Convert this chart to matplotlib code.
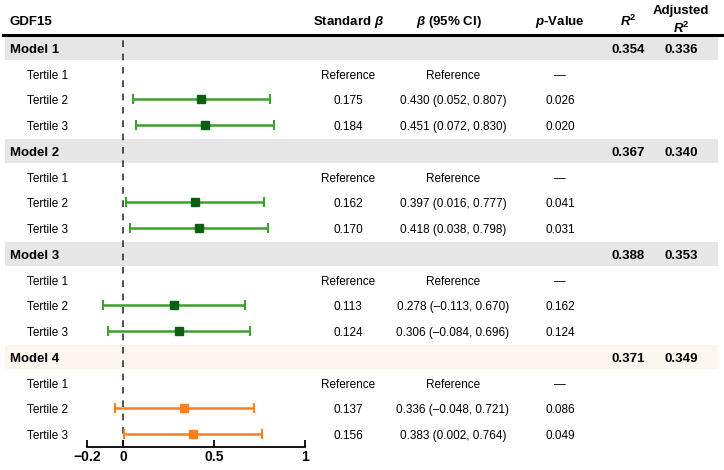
import matplotlib.pyplot as plt
from matplotlib.lines import Line2D

plt.rcParams['font.family'] = ['Liberation Sans', 'DejaVu Sans']
plt.rcParams['mathtext.fontset'] = 'custom'
plt.rcParams['mathtext.rm'] = 'Liberation Sans'
plt.rcParams['mathtext.it'] = 'Liberation Sans:italic'
plt.rcParams['mathtext.bf'] = 'Liberation Sans:bold'
plt.rcParams['mathtext.bfit'] = 'Liberation Sans:bold:italic'

models = ['Model 1', 'Model 2', 'Model 3', 'Model 4']
tertiles = ['Tertile 1', 'Tertile 2', 'Tertile 3']
r2 = ['0.354', '0.367', '0.388', '0.371']
adj_r2 = ['0.336', '0.340', '0.353', '0.349']

# tertile 2 and tertile 3 of each model
std_beta = [[0.175, 0.184], [0.162, 0.170], [0.113, 0.124], [0.137, 0.156]]
beta = [[0.430, 0.451], [0.397, 0.418], [0.278, 0.306], [0.336, 0.383]]
ci_low = [[0.052, 0.072], [0.016, 0.038], [-0.113, -0.084], [-0.048, 0.002]]
ci_high = [[0.807, 0.830], [0.777, 0.798], [0.670, 0.696], [0.721, 0.764]]
p_values = ['0.026', '0.020', '0.041', '0.031', '0.162', '0.124', '0.086', '0.049']

line_colors = ['#3aa12a', '#3aa12a', '#3aa12a', '#ff7f1a']
marker_colors = ['#0b5e12', '#0b5e12', '#0b5e12', '#ff7f1a']
band_colors = ['#e6e6e6', '#e6e6e6', '#e6e6e6', '#fdf6ee']

W, H = 724, 470
row_h = 25.75
top_px, bot_px = 35, 447
dy = 0.08  # text sits a bit low in its row


def fmt(v):
    return f'{v:.3f}'.replace('-', '\u2013')


fig = plt.figure(figsize=(W / 100, H / 100), dpi=100)

# background axes: pixel x, row y
bg = fig.add_axes([0, 0, 1, 1])
bg.set_xlim(0, W)
y_top = -0.5 - top_px / row_h
y_bot = 15.5 + (H - bot_px) / row_h
bg.set_ylim(y_bot, y_top)
bg.axis('off')

ax = fig.add_axes([87 / W, (H - bot_px) / H, 218 / W, (bot_px - top_px) / H])
ax.set_xlim(-0.2, 1)
ax.set_ylim(15.5, -0.5)
ax.patch.set_alpha(0)

col_std, col_beta, col_p, col_r2, col_adj = 348, 453, 560, 628, 681

# header
hy = -1.02
hkw = dict(fontsize=9.5, fontweight='bold', va='center', ha='center')
bg.text(10, hy, 'GDF15', fontsize=9.5, fontweight='bold', va='center')
bg.text(col_std, hy, r'Standard $\mathbfit{\beta}$', **hkw)
bg.text(col_beta - 4, hy, r'$\mathbfit{\beta}$ (95% CI)', **hkw)
bg.text(col_p, hy, r'$\mathbfit{p}$-Value', **hkw)
bg.text(col_r2, hy, '$\\mathbfit{R}^{\\mathbf{2}}$', **hkw)
bg.text(col_adj, hy - 0.4, 'Adjusted', **hkw)
bg.text(col_adj, hy + 0.28, '$\\mathbfit{R}^{\\mathbf{2}}$', **hkw)
bg.add_line(Line2D([3, 722], [-0.5, -0.5], color='black', lw=2.2))

for m, name in enumerate(models):
    y0 = m * 4
    bg.axhspan(y0 - 0.47, y0 + 0.47, xmin=5 / W, xmax=718 / W, color=band_colors[m], lw=0)
    bg.text(10, y0 + dy, name, fontsize=9.5, fontweight='bold', va='center')
    bg.text(col_r2, y0 + dy, r2[m], fontsize=9.5, fontweight='bold', va='center', ha='center')
    bg.text(col_adj, y0 + dy, adj_r2[m], fontsize=9.5, fontweight='bold', va='center', ha='center')
    for t, tname in enumerate(tertiles):
        y = y0 + 1 + t
        ty = y + dy
        bg.text(27, ty, tname, fontsize=8.5, va='center')
        if t == 0:
            bg.text(col_std, ty, 'Reference', fontsize=8.5, va='center', ha='center')
            bg.text(col_beta, ty, 'Reference', fontsize=8.5, va='center', ha='center')
            bg.text(col_p, ty, '\u2014', fontsize=8.5, va='center', ha='center')
            continue
        k = t - 1
        bg.text(col_std, ty, fmt(std_beta[m][k]), fontsize=8.5, va='center', ha='center')
        bg.text(col_beta, ty, f'{fmt(beta[m][k])} ({fmt(ci_low[m][k])}, {fmt(ci_high[m][k])})',
                fontsize=8.5, va='center', ha='center')
        bg.text(col_p, ty, p_values[m * 2 + k], fontsize=8.5, va='center', ha='center')
        ax.errorbar(beta[m][k], y,
                    xerr=[[beta[m][k] - ci_low[m][k]], [ci_high[m][k] - beta[m][k]]],
                    fmt='s', color=line_colors[m], mfc=marker_colors[m], mec=marker_colors[m],
                    ms=5.5, elinewidth=1.8, capsize=3.5, capthick=1.5, zorder=3)

ax.axvline(0, color='#333333', lw=1.2, ls=(0, (4, 4)), zorder=1)

for s in ['top', 'right', 'left']:
    ax.spines[s].set_visible(False)
ax.spines['bottom'].set_linewidth(1.3)
ax.spines['bottom'].set_bounds(-0.2, 1)
ax.set_yticks([])
ax.set_xticks([-0.2, 0, 0.5, 1])
ax.set_xticklabels(['\u22120.2', '0', '0.5', '1'], fontweight='bold', fontsize=10)
ax.tick_params(axis='x', direction='in', length=5, width=1.3, pad=2)

fig.savefig('out.png', dpi=100)
